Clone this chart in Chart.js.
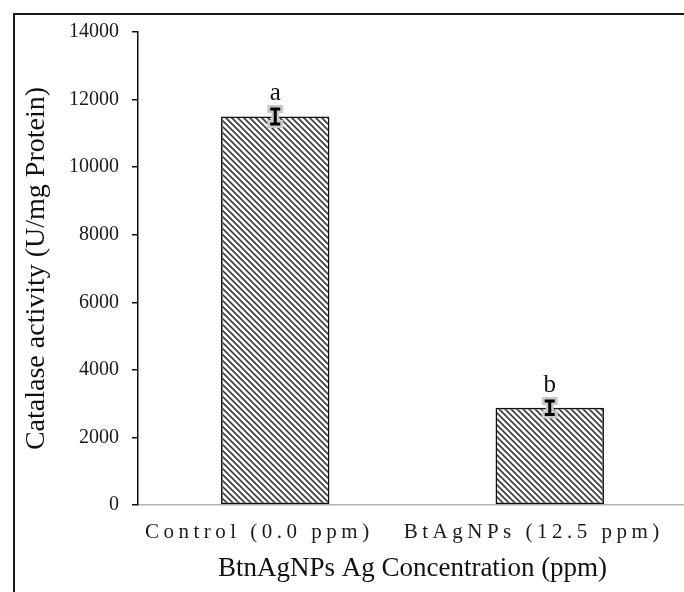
<!DOCTYPE html>
<html>
<head>
<meta charset="utf-8">
<script src="https://cdn.jsdelivr.net/npm/chart.js@4.4.1/dist/chart.umd.min.js"></script>
<style>
  html, body { margin: 0; padding: 0; background: #fff; overflow: hidden; width: 684px; height: 592px; }
  #frame { position: absolute; left: 13px; top: 13px; width: 800px; height: 700px; border: 2px solid #1a1a1a; }
  #wrap { position: absolute; left: 0; top: 0; width: 690px; height: 592px; }
</style>
</head>
<body>
<div id="frame"></div>
<div id="wrap"><canvas id="myChart" width="690" height="592"></canvas></div>
<script>
// chart data
var categories = ["Control (0.0 ppm)", "BtAgNPs (12.5 ppm)"];
var activity = [11500, 2880];
var activityErr = [220, 200];
var groupLetters = ["a", "b"];
var yTicks = [0, 2000, 4000, 6000, 8000, 10000, 12000, 14000];

var serif = "'Liberation Serif', 'Times New Roman', serif";

// diagonal hatch fill
function makeHatch() {
  var p = document.createElement("canvas");
  p.width = 6;
  p.height = 6;
  var c = p.getContext("2d");
  c.strokeStyle = "#3a3a3a";
  c.lineWidth = 1.6;
  c.beginPath();
  c.moveTo(-1, -1); c.lineTo(7, 7);
  c.moveTo(-4, 2); c.lineTo(4, 10);
  c.moveTo(2, -4); c.lineTo(10, 4);
  c.stroke();
  return c.createPattern(p, "repeat");
}

var errorBars = {
  id: "errorBars",
  afterDatasetsDraw: function (chart) {
    var ctx = chart.ctx;
    var meta = chart.getDatasetMeta(0);
    var y = chart.scales.y;
    meta.data.forEach(function (bar, i) {
      var x = bar.x;
      var top = y.getPixelForValue(activity[i] + activityErr[i]);
      var bot = y.getPixelForValue(activity[i] - activityErr[i]);
      var half = 5;
      ctx.save();
      ctx.lineCap = "butt";
      // light halo first, then the black I
      [["#c9c9c9", 8, 3], ["#000", 3, 0]].forEach(function (s) {
        ctx.strokeStyle = s[0];
        ctx.lineWidth = s[1];
        ctx.beginPath();
        ctx.moveTo(x, top); ctx.lineTo(x, bot);
        ctx.moveTo(x - half - s[2], top); ctx.lineTo(x + half + s[2], top);
        ctx.moveTo(x - half - s[2], bot); ctx.lineTo(x + half + s[2], bot);
        ctx.stroke();
      });
      ctx.fillStyle = "#111";
      ctx.font = "25px " + serif;
      ctx.textAlign = "center";
      ctx.textBaseline = "alphabetic";
      ctx.fillText(groupLetters[i], x, top - 9);
      ctx.restore();
    });
  }
};

// spaced-out category labels
var spacedLabels = {
  id: "spacedLabels",
  beforeDraw: function (chart) {
    var xs = chart.scales.x;
    if (xs._spaced) return;
    var orig = xs.drawLabels;
    xs.drawLabels = function (area) {
      var ctx = this.ctx;
      ctx.save();
      ctx.letterSpacing = "4.5px";
      orig.call(this, area);
      ctx.restore();
    };
    xs._spaced = true;
  }
};

var ctx = document.getElementById("myChart");

new Chart(ctx, {
  type: "bar",
  data: {
    labels: categories,
    datasets: [
      {
        data: activity,
        backgroundColor: makeHatch(),
        borderColor: "#111",
        borderWidth: 1.5,
        borderSkipped: false,
        barPercentage: 0.395,
        categoryPercentage: 1.0,
      },
    ],
  },
  options: {
    responsive: false,
    animation: false,
    layout: { padding: { left: 0, right: 3, top: 32, bottom: 7 } },
    plugins: { legend: { display: false }, tooltip: { enabled: false } },
    scales: {
      x: {
        offset: true,
        afterFit: function (s) { s.height = 80; },
        grid: { display: false, drawTicks: false },
        border: { display: true, color: "#b3b3b3", width: 1.5 },
        ticks: {
          color: "#1a1a1a",
          font: { family: serif, size: 21 },
          padding: 15,
          labelOffset: -16,
          maxRotation: 0,
          autoSkip: false,
        },
        title: {
          display: true,
          text: "BtnAgNPs Ag Concentration (ppm)",
          color: "#111",
          font: { family: serif, size: 27 },
          padding: { top: 0, bottom: 0 },
        },
      },
      y: {
        min: 0,
        max: 14000,
        afterFit: function (s) { s.width = 138; },
        afterBuildTicks: function (s) {
          s.ticks = yTicks.map(function (v) { return { value: v }; });
        },
        grid: { drawOnChartArea: false, drawTicks: true, tickLength: 6, color: "#111", lineWidth: 1.5 },
        border: { display: true, color: "#111", width: 1.5 },
        ticks: {
          color: "#1a1a1a",
          font: { family: serif, size: 20 },
          padding: 13,
          callback: function (v) { return String(v); },
        },
        title: {
          display: true,
          text: "Catalase activity (U/mg Protein)",
          color: "#111",
          font: { family: serif, size: 28 },
          padding: { top: 20, bottom: 0 },
        },
      },
    },
  },
  plugins: [errorBars, spacedLabels],
});
</script>
</body>
</html>
